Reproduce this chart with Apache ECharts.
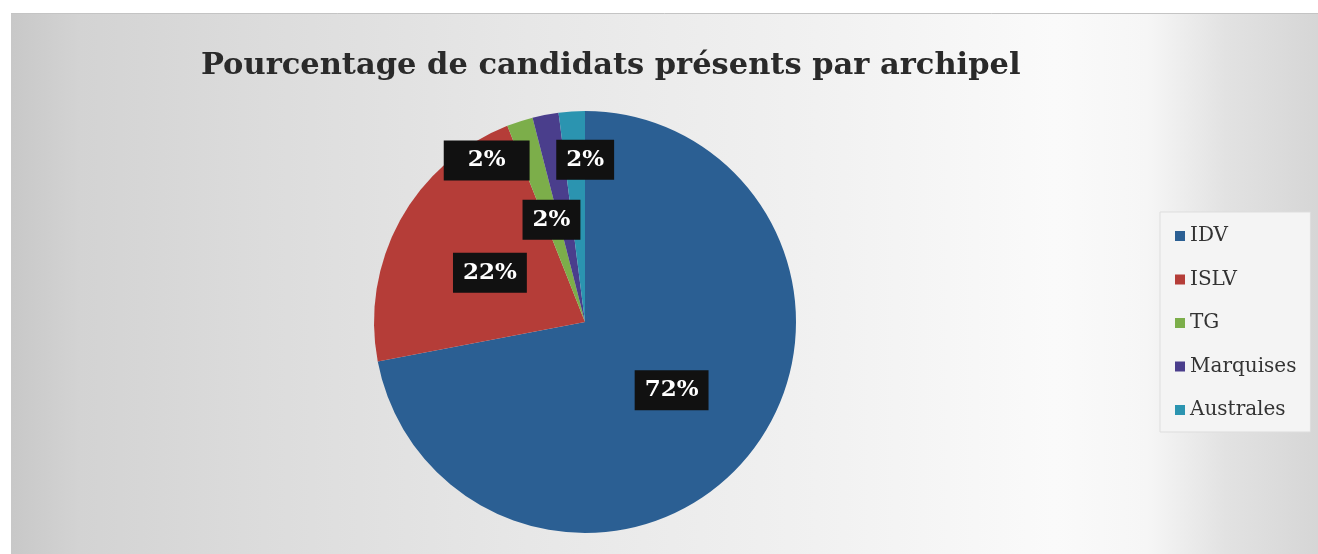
<!DOCTYPE html>
<html>
<head>
<meta charset="utf-8">
<script src="https://cdn.jsdelivr.net/npm/echarts@6/dist/echarts.min.js"></script>
<style>
  html, body { margin: 0; padding: 0; background: #fff; }
  #chart { width: 1318px; height: 554px; }
</style>
</head>
<body>
<div id="chart"></div>
<script>
// archipels et pourcentages
const categories = ['IDV', 'ISLV', 'TG', 'Marquises', 'Australes'];
const values = [72, 22, 2, 2, 2];
const colors = ['#2b5f93', '#b53d38', '#7cae4a', '#4a3e8c', '#2b94b0'];

// petits décalages des étiquettes (les 2% se chevauchent sinon)
const labelShift = [[3, -1], [0, 3], [0, 1], [-78, -55], [7, -54]];
const labelPad = [[8, 10], [8, 10], [8, 10], [8, 24], [8, 10]];

const chart = echarts.init(document.getElementById('chart'));

const option = {
  animation: false,
  graphic: [
    // fond gris du scan
    {
      type: 'rect', z: -10, silent: true,
      shape: { x: 0, y: 0, width: 1318, height: 554 },
      style: {
        fill: {
          type: 'linear', x: 0, y: 0, x2: 1, y2: 0,
          colorStops: [
            { offset: 0, color: '#c6c6c6' },
            { offset: 0.06, color: '#d3d3d3' },
            { offset: 0.2, color: '#dcdcdc' },
            { offset: 0.4, color: '#e7e7e7' },
            { offset: 0.62, color: '#f1f1f1' },
            { offset: 0.8, color: '#fafafa' },
            { offset: 0.87, color: '#f6f6f6' },
            { offset: 0.93, color: '#e2e2e2' },
            { offset: 1, color: '#d6d6d6' }
          ]
        }
      }
    },
    {
      type: 'rect', z: -9, silent: true,
      shape: { x: 0, y: 0, width: 1318, height: 13 },
      style: { fill: '#ffffff' }
    },
    {
      type: 'rect', z: -9, silent: true,
      shape: { x: 0, y: 0, width: 11, height: 554 },
      style: { fill: '#ffffff' }
    },
    {
      type: 'line', z: -9, silent: true,
      shape: { x1: 11, y1: 13.5, x2: 1318, y2: 13.5 },
      style: { stroke: '#c4c4c4', lineWidth: 1 }
    }
  ],
  title: {
    text: 'Pourcentage de candidats présents par archipel',
    left: 196,
    top: 46,
    textStyle: {
      fontFamily: 'DejaVu Serif',
      fontWeight: 'bold',
      fontSize: 30.5,
      color: '#2a2a2a'
    }
  },
  legend: {
    orient: 'vertical',
    left: 1160,
    top: 212,
    data: categories,
    icon: 'rect',
    itemWidth: 10,
    itemHeight: 10,
    itemGap: 23.5,
    padding: [14, 14, 12, 15],
    backgroundColor: '#f4f4f4',
    borderColor: '#dddddd',
    borderWidth: 1,
    textStyle: {
      fontFamily: 'DejaVu Serif',
      fontSize: 20,
      lineHeight: 20,
      color: '#333333'
    }
  },
  series: [{
    type: 'pie',
    center: [585, 322],
    radius: 211,
    startAngle: 90,
    clockwise: true,
    silent: true,
    percentPrecision: 0,
    itemStyle: { borderWidth: 0 },
    label: {
      show: true,
      position: 'inside',
      formatter: '{d}%',
      fontFamily: 'DejaVu Serif',
      fontWeight: 'bold',
      fontSize: 23,
      lineHeight: 24,
      color: '#ffffff',
      backgroundColor: '#111111'
    },
    labelLine: { show: false },
    labelLayout: (p) => ({ dx: labelShift[p.dataIndex][0], dy: labelShift[p.dataIndex][1] }),
    data: categories.map((name, i) => ({
      name,
      value: values[i],
      itemStyle: { color: colors[i] },
      label: { padding: labelPad[i] }
    }))
  }]
};

chart.setOption(option);
</script>
</body>
</html>
